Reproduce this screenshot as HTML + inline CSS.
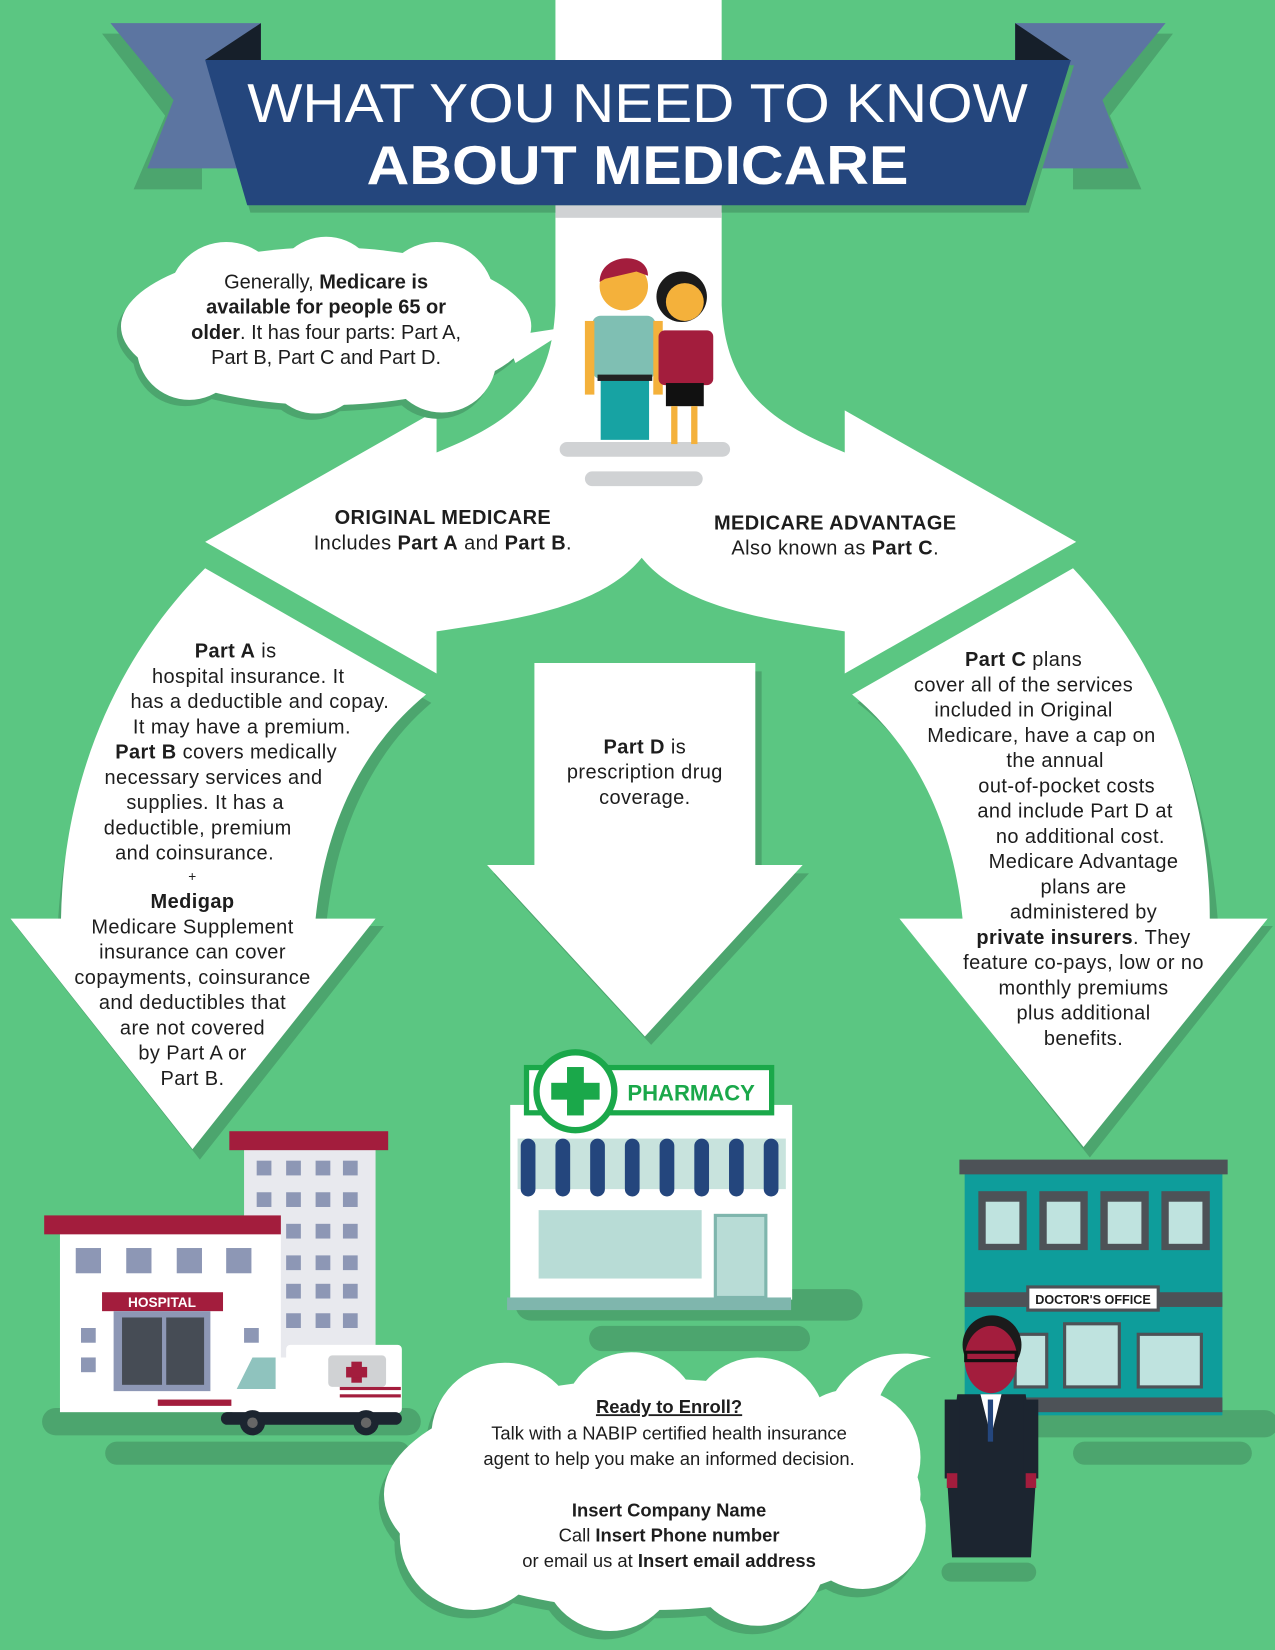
<!DOCTYPE html>
<html><head><meta charset="utf-8"><style>
html,body{margin:0;padding:0;background:#5bc682}
svg{display:block}
text{font-family:"Liberation Sans",sans-serif;fill:#1d1d1d}
</style></head><body>
<svg width="1275" height="1650" viewBox="0 0 1212 1568" preserveAspectRatio="none" xmlns="http://www.w3.org/2000/svg">
<rect width="1212" height="1568" fill="#5bc682"/>
<g fill="#4ca56e">
<path d="M200,548 C110,640 60,760 55,880 L15,880 L190,1102 L365,880 L310,880 C320,780 360,710 410,668 Z"/>
<path d="M1026,548 C1110,640 1150,760 1158,880 L1210,880 L1036,1100 L862,880 L922,880 C912,780 870,710 815,668 Z"/>
<path d="M514,638 L724,638 L724,830 L769,830 L619,993 L469,830 L514,830 Z"/>
</g>
<path fill="#fff" d="M528,0 L686,0 L686,290 C690,370 730,400 803,430 L803,390 L1023,515 L803,640 L803,600 C740,590 650,580 610,530 C570,580 480,590 415,600 L415,640 L195,515 L415,390 L415,430 C490,400 525,370 528,290 Z"/>
<path fill="#fff" d="M195,540 C105,630 60,750 58,873 L10,873 L183,1092 L357,873 L300,873 C310,775 350,705 405,660 Z"/>
<path fill="#fff" d="M1020,540 C1105,630 1150,750 1150,873 L1205,873 L1030,1090 L855,873 L915,873 C905,775 865,705 810,660 Z"/>
<path fill="#fff" d="M508,630 L718,630 L718,822 L763,822 L613,985 L463,822 L508,822 Z"/>
<!-- banner -->
<polygon points="100,22 195,22 195,170 130,170 160,100" fill="#4ca56e" transform="translate(-3,10)"/>
<polygon points="1112,22 1017,22 1017,170 1082,170 1052,100" fill="#4ca56e" transform="translate(3,10)"/>
<polygon points="105,22 248,22 248,160 140,160 165,95" fill="#5c75a1"/>
<polygon points="1108,22 965,22 965,160 1073,160 1048,95" fill="#5c75a1"/>
<polygon points="195,57 248,22 248,57" fill="#161f2a"/>
<polygon points="1017,57 965,22 965,57" fill="#161f2a"/>
<polygon points="198,62 1021,62 978,202 238,202" fill="#4ca56e"/>
<rect x="528" y="195" width="158" height="12" fill="#d0d2d4"/>
<polygon points="195,57 1018,57 975,195 235,195" fill="#24467d"/>
<text x="606" y="116" text-anchor="middle" font-size="52" style="fill:#fff" textLength="742" lengthAdjust="spacingAndGlyphs">WHAT YOU NEED TO KNOW</text>
<text x="606" y="175" text-anchor="middle" font-size="52" font-weight="bold" style="fill:#fff" textLength="515" lengthAdjust="spacingAndGlyphs">ABOUT MEDICARE</text>
<!-- top cloud -->
<g fill="#4ca56e" transform="translate(-4,6)">
<ellipse cx="310" cy="310" rx="195" ry="75"/><circle cx="215" cy="285" r="55"/><circle cx="310" cy="275" r="50"/><circle cx="415" cy="285" r="55"/><circle cx="180" cy="330" r="50"/><circle cx="300" cy="345" r="48"/><circle cx="420" cy="340" r="52"/>
</g>
<g fill="#fff">
<ellipse cx="310" cy="310" rx="195" ry="75"/><circle cx="215" cy="285" r="55"/><circle cx="310" cy="275" r="50"/><circle cx="415" cy="285" r="55"/><circle cx="180" cy="330" r="50"/><circle cx="300" cy="345" r="48"/><circle cx="420" cy="340" r="52"/>
<polygon points="480,320 545,310 490,345"/>
</g>
<g font-size="19" text-anchor="middle">
<text x="310" y="274">Generally, <tspan font-weight="bold">Medicare is</tspan></text>
<text x="310" y="298" font-weight="bold">available for people 65 or</text>
<text x="310" y="322"><tspan font-weight="bold">older</tspan>. It has four parts: Part A,</text>
<text x="310" y="346">Part B, Part C and Part D.</text>
</g>
<!-- people -->
<rect x="532" y="420" width="162" height="14" rx="7" fill="#d0d2d4"/>
<rect x="556" y="448" width="112" height="14" rx="7" fill="#d0d2d4"/>
<circle cx="593" cy="272" r="23" fill="#f4b13b"/><path d="M570,268 C570,240 616,238 616,262 L605,258 L575,265 Z" fill="#a31d3d"/>
<rect x="563" y="300" width="60" height="60" rx="8" fill="#7fbfb3"/>
<rect x="571" y="360" width="46" height="58" fill="#17a3a3"/><rect x="568" y="356" width="52" height="6" fill="#222"/>
<rect x="556" y="305" width="9" height="70" fill="#f4b13b"/><rect x="621" y="305" width="9" height="70" fill="#f4b13b"/>
<circle cx="648" cy="282" r="24" fill="#1b1b1b"/><circle cx="651" cy="287" r="18" fill="#f4b13b"/>
<rect x="626" y="314" width="52" height="52" rx="6" fill="#a31d3d"/><rect x="633" y="364" width="36" height="22" fill="#111"/>
<rect x="638" y="386" width="6" height="36" fill="#f4b13b"/><rect x="657" y="386" width="6" height="36" fill="#f4b13b"/>
<g font-size="19" text-anchor="middle" letter-spacing="0.4">
<text x="421" y="498" font-weight="bold">ORIGINAL MEDICARE</text>
<text x="421" y="522">Includes <tspan font-weight="bold">Part A</tspan> and <tspan font-weight="bold">Part B</tspan>.</text>
<text x="794" y="503" font-weight="bold">MEDICARE ADVANTAGE</text>
<text x="794" y="527">Also known as <tspan font-weight="bold">Part C</tspan>.</text>
<text x="613" y="716"><tspan font-weight="bold">Part D</tspan> is</text>
<text x="613" y="740">prescription drug</text>
<text x="613" y="764">coverage.</text>
</g>
<g font-size="19" text-anchor="middle" letter-spacing="0.4">
<text x="224" y="625"><tspan font-weight="bold">Part A</tspan> is</text>
<text x="236" y="649">hospital insurance. It</text>
<text x="247" y="673">has a deductible and copay.</text>
<text x="230" y="697">It may have a premium.</text>
<text x="215" y="721"><tspan font-weight="bold">Part B</tspan> covers medically</text>
<text x="203" y="745">necessary services and</text>
<text x="195" y="769">supplies. It has a</text>
<text x="188" y="793">deductible, premium</text>
<text x="185" y="817">and coinsurance.</text>
<text x="183" y="837" font-size="13">+</text>
<text x="183" y="863" font-weight="bold">Medigap</text>
<text x="183" y="887">Medicare Supplement</text>
<text x="183" y="911">insurance can cover</text>
<text x="183" y="935">copayments, coinsurance</text>
<text x="183" y="959">and deductibles that</text>
<text x="183" y="983">are not covered</text>
<text x="183" y="1007">by Part A or</text>
<text x="183" y="1031">Part B.</text>
</g>
<g font-size="19" text-anchor="middle" letter-spacing="0.4">
<text x="973" y="633"><tspan font-weight="bold">Part C</tspan> plans</text>
<text x="973" y="657">cover all of the services</text>
<text x="973" y="681">included in Original</text>
<text x="990" y="705">Medicare, have a cap on</text>
<text x="1003" y="729">the annual</text>
<text x="1014" y="753">out-of-pocket costs</text>
<text x="1022" y="777">and include Part D at</text>
<text x="1027" y="801">no additional cost.</text>
<text x="1030" y="825">Medicare Advantage</text>
<text x="1030" y="849">plans are</text>
<text x="1030" y="873">administered by</text>
<text x="1030" y="897"><tspan font-weight="bold">private insurers</tspan>. They</text>
<text x="1030" y="921">feature co-pays, low or no</text>
<text x="1030" y="945">monthly premiums</text>
<text x="1030" y="969">plus additional</text>
<text x="1030" y="993">benefits.</text>
</g>
<g fill="#4ca56e">
<rect x="40" y="1338" width="360" height="26" rx="13"/><rect x="100" y="1370" width="290" height="22" rx="11"/>
<rect x="490" y="1225" width="330" height="30" rx="15"/><rect x="560" y="1260" width="210" height="24" rx="12"/>
<rect x="925" y="1340" width="290" height="26" rx="13"/><rect x="1020" y="1370" width="170" height="22" rx="11"/>
</g>
<!-- hospital -->
<rect x="232" y="1090" width="125" height="260" fill="#e8e9ee"/>
<rect x="218" y="1075" width="151" height="18" fill="#a31d3d"/>
<g fill="#8d97b5">
<rect x="244" y="1103" width="14" height="14"/><rect x="272" y="1103" width="14" height="14"/><rect x="300" y="1103" width="14" height="14"/><rect x="326" y="1103" width="14" height="14"/>
<rect x="244" y="1133" width="14" height="14"/><rect x="272" y="1133" width="14" height="14"/><rect x="300" y="1133" width="14" height="14"/><rect x="326" y="1133" width="14" height="14"/>
<rect x="272" y="1163" width="14" height="14"/><rect x="300" y="1163" width="14" height="14"/><rect x="326" y="1163" width="14" height="14"/>
<rect x="272" y="1193" width="14" height="14"/><rect x="300" y="1193" width="14" height="14"/><rect x="326" y="1193" width="14" height="14"/>
<rect x="272" y="1220" width="14" height="14"/><rect x="300" y="1220" width="14" height="14"/><rect x="326" y="1220" width="14" height="14"/>
<rect x="272" y="1248" width="14" height="14"/><rect x="300" y="1248" width="14" height="14"/><rect x="326" y="1248" width="14" height="14"/>
</g>
<rect x="57" y="1170" width="210" height="172" fill="#fff"/>
<rect x="42" y="1155" width="225" height="18" fill="#a31d3d"/>
<g fill="#8d97b5">
<rect x="72" y="1186" width="24" height="24"/><rect x="120" y="1186" width="24" height="24"/><rect x="168" y="1186" width="24" height="24"/><rect x="215" y="1186" width="24" height="24"/>
<rect x="77" y="1262" width="14" height="14"/><rect x="77" y="1290" width="14" height="14"/><rect x="232" y="1262" width="14" height="14"/>
</g>
<rect x="97" y="1228" width="115" height="18" fill="#a31d3d"/>
<text x="154" y="1242" text-anchor="middle" font-size="13" font-weight="bold" style="fill:#fff">HOSPITAL</text>
<rect x="108" y="1246" width="92" height="76" fill="#8d97b5"/><rect x="116" y="1252" width="38" height="64" fill="#464c55"/><rect x="158" y="1252" width="36" height="64" fill="#464c55"/>
<rect x="150" y="1330" width="70" height="6" fill="#a31d3d"/>
<rect x="272" y="1278" width="110" height="65" rx="4" fill="#fff"/>
<rect x="220" y="1290" width="60" height="55" rx="6" fill="#fff"/>
<polygon points="225,1320 240,1290 262,1290 262,1320" fill="#8fc3be"/>
<rect x="312" y="1288" width="55" height="30" rx="4" fill="#d0d2d4"/><rect x="334" y="1294" width="10" height="20" fill="#a31d3d"/><rect x="329" y="1299" width="20" height="10" fill="#a31d3d"/>
<rect x="323" y="1318" width="58" height="3" fill="#a31d3d"/><rect x="323" y="1325" width="58" height="3" fill="#a31d3d"/>
<rect x="210" y="1342" width="172" height="12" rx="6" fill="#1c2530"/>
<circle cx="240" cy="1352" r="12" fill="#1c2530"/><circle cx="348" cy="1352" r="12" fill="#1c2530"/>
<circle cx="240" cy="1352" r="5" fill="#666"/><circle cx="348" cy="1352" r="5" fill="#666"/>
<!-- pharmacy -->
<rect x="485" y="1050" width="268" height="185" fill="#fff"/>
<rect x="498" y="1012" width="238" height="48" fill="#1aa84a"/><rect x="503" y="1017" width="228" height="38" fill="#fff"/>
<circle cx="547" cy="1037" r="40" fill="#1aa84a"/><circle cx="547" cy="1037" r="34" fill="#fff"/>
<rect x="539" y="1014" width="16" height="46" fill="#1aa84a"/><rect x="524" y="1029" width="46" height="16" fill="#1aa84a"/>
<text x="657" y="1046" text-anchor="middle" font-size="21" font-weight="bold" style="fill:#1aa84a">PHARMACY</text>
<rect x="492" y="1082" width="255" height="48" fill="#c8e3dd"/>
<g fill="#24467d"><rect x="495" y="1082" width="14" height="55" rx="7"/><rect x="528" y="1082" width="14" height="55" rx="7"/><rect x="561" y="1082" width="14" height="55" rx="7"/><rect x="594" y="1082" width="14" height="55" rx="7"/><rect x="627" y="1082" width="14" height="55" rx="7"/><rect x="660" y="1082" width="14" height="55" rx="7"/><rect x="693" y="1082" width="14" height="55" rx="7"/><rect x="726" y="1082" width="14" height="55" rx="7"/></g>
<rect x="512" y="1150" width="155" height="65" fill="#b8dcd6"/>
<rect x="680" y="1155" width="48" height="78" fill="#b8dcd6" stroke="#7fb6ad" stroke-width="3"/>
<rect x="482" y="1233" width="270" height="12" fill="#7fb6ad"/>
<!-- doctor's office -->
<rect x="917" y="1115" width="245" height="230" fill="#0e9d9b"/>
<rect x="912" y="1102" width="255" height="14" fill="#4d5257"/>
<g fill="#4d5257"><rect x="930" y="1132" width="46" height="56"/><rect x="988" y="1132" width="46" height="56"/><rect x="1046" y="1132" width="46" height="56"/><rect x="1104" y="1132" width="46" height="56"/></g>
<g fill="#bfe3df"><rect x="937" y="1142" width="32" height="40"/><rect x="995" y="1142" width="32" height="40"/><rect x="1053" y="1142" width="32" height="40"/><rect x="1111" y="1142" width="32" height="40"/></g>
<rect x="917" y="1228" width="245" height="14" fill="#4d5257"/>
<rect x="977" y="1223" width="124" height="22" fill="#fff" stroke="#4d5257" stroke-width="3"/>
<text x="1039" y="1239" text-anchor="middle" font-size="12" font-weight="bold">DOCTOR'S OFFICE</text>
<g fill="#bfe3df" stroke="#4d5257" stroke-width="3"><rect x="965" y="1268" width="30" height="50"/><rect x="1012" y="1258" width="52" height="60"/><rect x="1082" y="1268" width="60" height="50"/></g>
<rect x="917" y="1328" width="245" height="14" fill="#4d5257"/>
<!-- bottom cloud -->
<g fill="#4ca56e" transform="translate(-5,8)">
<ellipse cx="620" cy="1420" rx="255" ry="110"/><circle cx="480" cy="1365" r="70"/><circle cx="600" cy="1350" r="65"/><circle cx="720" cy="1355" r="65"/><circle cx="810" cy="1385" r="65"/><circle cx="450" cy="1460" r="70"/><circle cx="580" cy="1485" r="65"/><circle cx="720" cy="1480" r="65"/><circle cx="820" cy="1450" r="60"/>
</g>
<g fill="#fff">
<ellipse cx="620" cy="1420" rx="255" ry="110"/><circle cx="480" cy="1365" r="70"/><circle cx="600" cy="1350" r="65"/><circle cx="720" cy="1355" r="65"/><circle cx="810" cy="1385" r="65"/><circle cx="450" cy="1460" r="70"/><circle cx="580" cy="1485" r="65"/><circle cx="720" cy="1480" r="65"/><circle cx="820" cy="1450" r="60"/>
<path d="M790,1330 C810,1290 850,1280 885,1290 C850,1295 835,1320 830,1350 Z"/>
</g>
<g font-size="17.5" text-anchor="middle">
<text x="636" y="1343" font-weight="bold" text-decoration="underline">Ready to Enroll?</text>
<text x="636" y="1368">Talk with a NABIP certified health insurance</text>
<text x="636" y="1392">agent to help you make an informed decision.</text>
<text x="636" y="1441" font-weight="bold">Insert Company Name</text>
<text x="636" y="1465">Call <tspan font-weight="bold">Insert Phone number</tspan></text>
<text x="636" y="1489">or email us at <tspan font-weight="bold">Insert email address</tspan></text>
</g>
<!-- doctor -->
<rect x="895" y="1485" width="90" height="18" rx="9" fill="#4ca56e"/>
<circle cx="943" cy="1278" r="28" fill="#1b1b1b"/>
<ellipse cx="942" cy="1292" rx="25" ry="32" fill="#a31d3d"/>
<rect x="918" y="1285" width="48" height="8" fill="none" stroke="#111" stroke-width="3"/>
<polygon points="910,1325 975,1325 985,1400 980,1480 905,1480 900,1400" fill="#1c2530"/>
<polygon points="932,1325 952,1325 942,1365" fill="#fff"/><rect x="939" y="1330" width="5" height="40" fill="#24467d"/>
<rect x="898" y="1330" width="14" height="75" fill="#1c2530"/><rect x="973" y="1330" width="14" height="75" fill="#1c2530"/>
<rect x="900" y="1400" width="10" height="14" fill="#a31d3d"/><rect x="975" y="1400" width="10" height="14" fill="#a31d3d"/>
</svg>
</body></html>
